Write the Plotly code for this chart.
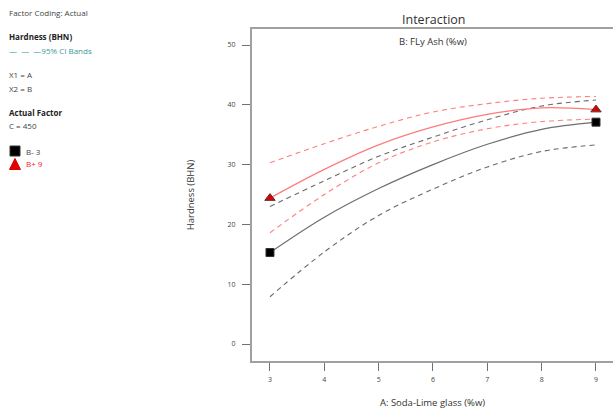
import plotly.graph_objects as go

# ---- data ----
soda_lime = [3, 4, 5, 6, 7, 8, 9]
b_minus_mean = [15.3, 21.2, 26.0, 30.0, 33.4, 35.9, 37.1]
b_minus_upper = [23.0, 27.3, 31.4, 34.6, 37.5, 39.8, 40.8]
b_minus_lower = [7.9, 15.4, 21.5, 25.9, 29.6, 32.2, 33.3]
b_plus_mean = [24.4, 29.2, 33.3, 36.3, 38.4, 39.5, 39.2]
b_plus_upper = [30.3, 33.5, 36.4, 38.8, 40.2, 41.1, 41.4]
b_plus_lower = [18.6, 25.0, 30.3, 33.8, 36.0, 37.2, 37.6]
x_ticks = [3, 4, 5, 6, 7, 8, 9]
y_ticks = [0, 10, 20, 30, 40, 50]

GRAY_LINE = "#6e6e6e"
GRAY_DASH = "#6a6a6a"
RED_LINE = "#ff7b7b"
RED_DASH = "#ff7f7f"
FONT = "Open Sans"

fig = go.Figure()

def band(y, color):
    fig.add_trace(go.Scatter(x=soda_lime, y=y, mode="lines",
                             line=dict(color=color, width=1.1, dash="5px,4px", shape="spline"),
                             hoverinfo="skip", showlegend=False))

band(b_minus_upper, GRAY_DASH)
band(b_minus_lower, GRAY_DASH)
band(b_plus_upper, RED_DASH)
band(b_plus_lower, RED_DASH)

fig.add_trace(go.Scatter(x=soda_lime, y=b_minus_mean, mode="lines",
                         line=dict(color=GRAY_LINE, width=1.2, shape="spline"), showlegend=False))
fig.add_trace(go.Scatter(x=soda_lime, y=b_plus_mean, mode="lines",
                         line=dict(color=RED_LINE, width=1.2, shape="spline"), showlegend=False))

fig.add_trace(go.Scatter(x=[soda_lime[0], soda_lime[-1]], y=[b_minus_mean[0], b_minus_mean[-1]],
                         mode="markers",
                         marker=dict(symbol="square", size=8, color="black",
                                     line=dict(color="#333333", width=1)),
                         showlegend=False))
fig.add_trace(go.Scatter(x=[soda_lime[0], soda_lime[-1]], y=[b_plus_mean[0], b_plus_mean[-1]],
                         mode="markers",
                         marker=dict(symbol="triangle-up", size=9, color="#e00000",
                                     line=dict(color="#553333", width=1)),
                         showlegend=False))

axis_common = dict(showgrid=False, zeroline=False, showline=True, linecolor="#a0a0a0",
                   linewidth=2, ticks="outside", ticklen=8, tickcolor="#707070", tickwidth=1,
                   tickfont=dict(family=FONT, size=7, color="#444444"))

fig.update_xaxes(range=[2.669, 9.313], tickvals=x_ticks, mirror=True, ticklabelstandoff=3,
                 title=dict(text="A: Soda-Lime glass (%w)", font=dict(family=FONT, size=9.5, color="#333333"),
                            standoff=16),
                 **axis_common)
fig.update_yaxes(range=[-2.84, 52.68], tickvals=y_ticks, ticklabelstandoff=5,
                 title=dict(text="Hardness (BHN)", font=dict(family=FONT, size=9.5, color="#333333"),
                            standoff=31),
                 **axis_common)

def px_x(px):
    return (px - 252) / 361.0

def px_y(py):
    return (361 - py) / 332.0

def label(text, x, y, size=8, color="#444444", bold=False, anchor="left"):
    if bold:
        text = "<b>" + text + "</b>"
    fig.add_annotation(text=text, x=px_x(x), y=px_y(y), xref="paper", yref="paper",
                       xanchor=anchor, yanchor="middle", showarrow=False,
                       font=dict(family=FONT, size=size, color=color))

label("Factor Coding: Actual", 7, 12)
label("Hardness (BHN)", 7, 36, bold=True, color="#222222")
label("— &nbsp;— &nbsp;—95% CI Bands", 7, 50, color="#3a9a9a")
label("X1 = A", 7, 75)
label("X2 = B", 7, 88)
label("Actual Factor", 7, 112, bold=True, color="#222222")
label("C = 450", 7, 126)
label("B- 3", 24, 151)
label("B+ 9", 24, 164, color="#ee2222")

# legend symbols drawn as shapes
fig.add_shape(type="rect", xref="paper", yref="paper",
              x0=px_x(10), x1=px_x(20), y0=px_y(156), y1=px_y(146),
              fillcolor="black", line=dict(color="#333333", width=1))
fig.add_shape(type="path", xref="paper", yref="paper",
              path="M {:.5f},{:.5f} L {:.5f},{:.5f} L {:.5f},{:.5f} Z".format(
                  px_x(9.5), px_y(169.5), px_x(20.5), px_y(169.5), px_x(15), px_y(158.5)),
              fillcolor="#e00000", line=dict(color="#e00000", width=1))

fig.add_annotation(text="Interaction", x=px_x(433), y=px_y(19), xref="paper", yref="paper",
                   showarrow=False, xanchor="center", yanchor="middle",
                   font=dict(family=FONT, size=12.5, color="#333333"))
fig.add_annotation(text="B: FLy Ash (%w)", x=px_x(433), y=px_y(41), xref="paper", yref="paper",
                   showarrow=False, xanchor="center", yanchor="middle",
                   font=dict(family=FONT, size=9.5, color="#333333"))

fig.update_layout(width=613, height=412, margin=dict(l=252, r=0, t=29, b=51),
                  plot_bgcolor="white", paper_bgcolor="white", showlegend=False)

fig.write_html("out.html", config={"displayModeBar": False},
               post_script="document.body.style.margin='0';document.body.style.padding='0';"
                           "document.documentElement.style.overflow='hidden';")
